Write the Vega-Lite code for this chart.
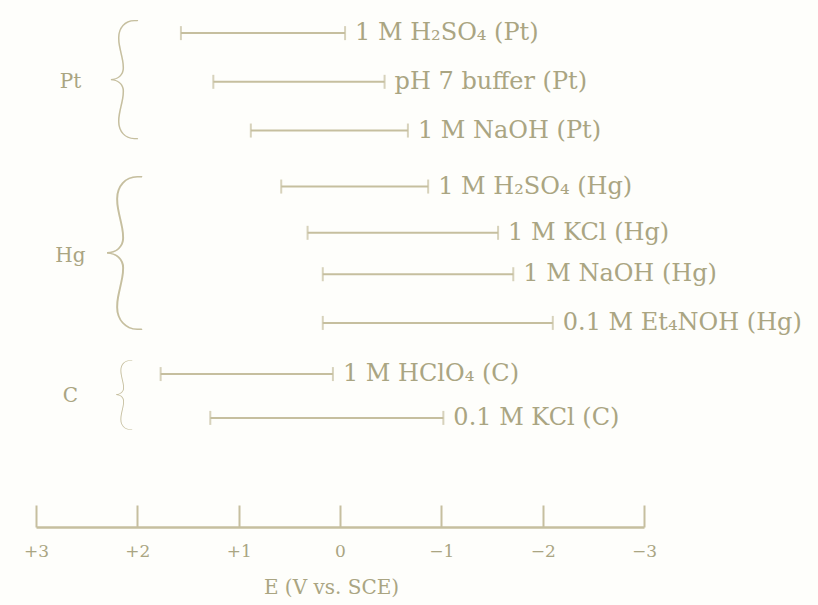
{
  "$schema": "https://vega.github.io/schema/vega-lite/v6.json",
  "autosize": "none",
  "width": 608,
  "height": 527,
  "padding": {"left": 36, "top": 0, "right": 174, "bottom": 78},
  "background": "#fefefb",
  "config": {"view": {"stroke": null}, "font": "DejaVu Serif"},
  "datasets": {
    "windows": [
      {"label": "1 M H₂SO₄ (Pt)", "group": "Pt", "row": 1, "anodic": 1.57, "cathodic": -0.05},
      {"label": "pH 7 buffer (Pt)", "group": "Pt", "row": 2, "anodic": 1.25, "cathodic": -0.44},
      {"label": "1 M NaOH (Pt)", "group": "Pt", "row": 3, "anodic": 0.88, "cathodic": -0.67},
      {"label": "1 M H₂SO₄ (Hg)", "group": "Hg", "row": 4.15, "anodic": 0.58, "cathodic": -0.87},
      {"label": "1 M KCl (Hg)", "group": "Hg", "row": 5.1, "anodic": 0.32, "cathodic": -1.56},
      {"label": "1 M NaOH (Hg)", "group": "Hg", "row": 5.95, "anodic": 0.17, "cathodic": -1.71},
      {"label": "0.1 M Et₄NOH (Hg)", "group": "Hg", "row": 6.95, "anodic": 0.17, "cathodic": -2.1},
      {"label": "1 M HClO₄ (C)", "group": "C", "row": 8.0, "anodic": 1.77, "cathodic": 0.07},
      {"label": "0.1 M KCl (C)", "group": "C", "row": 8.9, "anodic": 1.28, "cathodic": -1.02}
    ],
    "groups": [
      {"group": "Pt", "row": 2, "labelE": 2.66, "braceE": 2.13},
      {"group": "Hg", "row": 5.58, "labelE": 2.66, "braceE": 2.13},
      {"group": "C", "row": 8.45, "labelE": 2.66, "braceE": 2.13}
    ]
  },
  "layer": [
    {
      "data": {"name": "windows"},
      "mark": {"type": "rule", "color": "#c6bf9f", "strokeWidth": 2},
      "encoding": {
        "x": {"field": "anodic", "type": "quantitative",
          "scale": {"domain": [3, -3], "nice": false, "zero": false},
          "axis": {
            "values": [3, 2, 1, 0, -1, -2, -3],
            "labelExpr": "datum.value > 0 ? '+' + datum.value : (datum.value < 0 ? '−' + abs(datum.value) : '0')",
            "grid": false, "labelFlush": false, "labelOverlap": false,
            "domainColor": "#c6bf9f", "domainWidth": 2.5,
            "tickColor": "#c6bf9f", "tickWidth": 2, "tickSize": -22,
            "labelColor": "#aaa582", "labelFontSize": 17, "labelPadding": 38,
            "labelFont": "DejaVu Serif",
            "title": "E (V vs. SCE)", "titleFont": "DejaVu Serif", "titleFontSize": 20,
            "titleFontWeight": "normal", "titleColor": "#aaa582", "titlePadding": 18,
            "titleX": 295, "titleAlign": "center"
          }},
        "x2": {"field": "cathodic"},
        "y": {"field": "row", "type": "quantitative",
          "scale": {"domain": [0.32, 11.14], "reverse": true, "nice": false, "zero": false},
          "axis": null}
      }
    },
    {
      "data": {"name": "windows"},
      "mark": {"type": "tick", "color": "#c6bf9f", "thickness": 2, "size": 14, "orient": "vertical"},
      "encoding": {
        "x": {"field": "anodic", "type": "quantitative"},
        "y": {"field": "row", "type": "quantitative"}
      }
    },
    {
      "data": {"name": "windows"},
      "mark": {"type": "tick", "color": "#c6bf9f", "thickness": 2, "size": 14, "orient": "vertical"},
      "encoding": {
        "x": {"field": "cathodic", "type": "quantitative"},
        "y": {"field": "row", "type": "quantitative"}
      }
    },
    {
      "data": {"name": "windows"},
      "mark": {"type": "text", "align": "left", "baseline": "middle", "dx": 10, "fontSize": 24, "font": "DejaVu Serif", "color": "#aaa582"},
      "encoding": {
        "x": {"field": "cathodic", "type": "quantitative"},
        "y": {"field": "row", "type": "quantitative"},
        "text": {"field": "label"}
      }
    },
    {
      "data": {"name": "groups"},
      "mark": {"type": "text", "align": "center", "baseline": "middle", "fontSize": 20, "font": "DejaVu Serif", "color": "#aaa582"},
      "encoding": {
        "x": {"field": "labelE", "type": "quantitative"},
        "y": {"field": "row", "type": "quantitative"},
        "text": {"field": "group"}
      }
    },
    {
      "data": {"name": "groups"},
      "transform": [{"filter": "datum.group == 'Pt'"}],
      "mark": {"type": "text", "align": "center", "baseline": "middle", "fontSize": 136, "fontWeight": 200, "font": "Lato", "color": "#c6bf9f", "dy": 0},
      "encoding": {
        "x": {"field": "braceE", "type": "quantitative"},
        "y": {"field": "row", "type": "quantitative"},
        "text": {"value": "{"}
      }
    },
    {
      "data": {"name": "groups"},
      "transform": [{"filter": "datum.group == 'Hg'"}],
      "mark": {"type": "text", "align": "center", "baseline": "middle", "fontSize": 176, "fontWeight": 200, "font": "Lato", "color": "#c6bf9f", "dy": 0},
      "encoding": {
        "x": {"field": "braceE", "type": "quantitative"},
        "y": {"field": "row", "type": "quantitative"},
        "text": {"value": "{"}
      }
    },
    {
      "data": {"name": "groups"},
      "transform": [{"filter": "datum.group == 'C'"}],
      "mark": {"type": "text", "align": "center", "baseline": "middle", "fontSize": 80, "fontWeight": 200, "font": "Lato", "color": "#c6bf9f", "dy": 0},
      "encoding": {
        "x": {"field": "braceE", "type": "quantitative"},
        "y": {"field": "row", "type": "quantitative"},
        "text": {"value": "{"}
      }
    }
  ]
}
